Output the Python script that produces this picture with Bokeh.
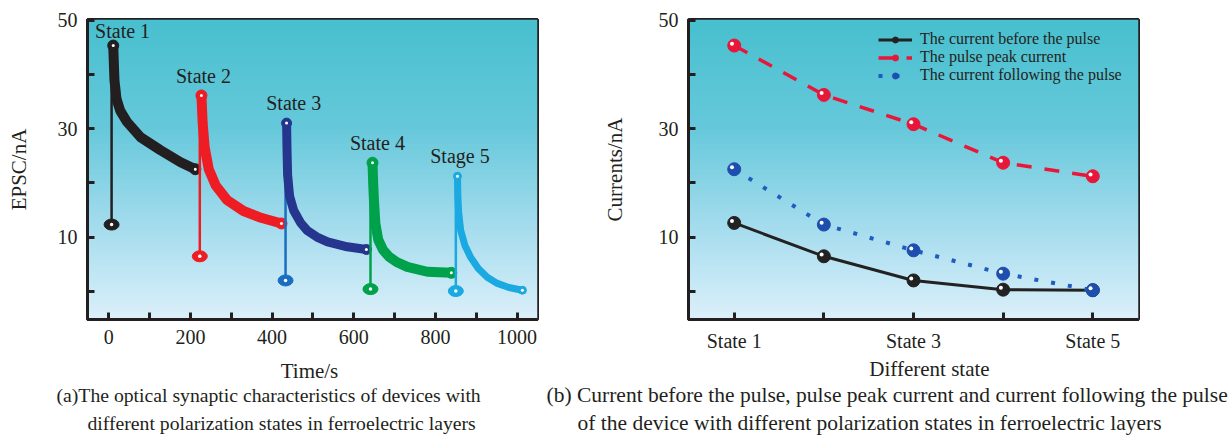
import numpy as np
from bokeh.plotting import figure
from bokeh.models import FixedTicker, Legend, LegendItem, Range1d
from bokeh.layouts import row, column
from bokeh.embed import file_html
from bokeh.resources import INLINE
from bokeh.core.properties import value
from bokeh.transform import dodge

FONT = "Liberation Serif"
INK = "#231F20"

# ---------------- data: panel (a) ----------------
state_names_a = ["State 1", "State 2", "State 3", "State 4", "Stage 5"]
pulse_times = [7, 223, 433, 641, 850]
pre_pulse = [12.3, 6.45, 2.0, 0.4, 0.05]

s1_time = [11, 14, 19, 28, 45, 78, 127, 176, 212]
s1_epsc = [45.3, 38.9, 35.5, 33.3, 31.2, 28.4, 26.0, 23.8, 22.5]
s2_time = [227, 230, 235, 245, 262, 290, 330, 375, 423]
s2_epsc = [36.1, 31.0, 26.5, 22.5, 19.5, 16.8, 14.8, 13.5, 12.5]
s3_time = [435.5, 436.5, 438, 443, 453, 470, 486, 510, 536, 584, 631]
s3_epsc = [31.0, 26.5, 21.5, 17.5, 14.9, 12.6, 11.2, 10.0, 9.1, 8.2, 7.7]
s4_time = [646, 647.5, 649.5, 653, 660, 672, 686, 705, 731, 780, 839]
s4_epsc = [23.7, 20.0, 16.8, 12.5, 9.5, 7.6, 6.4, 5.4, 4.5, 3.6, 3.4]
s5_time = [854, 855, 857, 862, 872, 886, 905, 927, 950, 980, 1013]
s5_epsc = [21.2, 17.5, 14.5, 11.2, 8.5, 6.3, 4.2, 2.6, 1.5, 0.7, 0.2]

label_time = [34, 232, 453, 658, 860]
label_epsc = [47.9, 39.6, 34.7, 27.3, 24.9]

time_ticks = [0, 100, 200, 300, 400, 500, 600, 700, 800, 900, 1000]
time_tick_labels = ["0", "", "200", "", "400", "", "600", "", "800", "", "1000"]
current_ticks = [0, 10, 20, 30, 40, 50]
current_tick_labels = ["", "10", "", "30", "", "50"]

# ---------------- data: panel (b) ----------------
states = [1, 2, 3, 4, 5]
state_tick_labels = ["State 1", "", "State 3", "", "State 5"]
before_pulse = [12.6, 6.45, 2.0, 0.3, 0.2]
peak_current = [45.3, 36.2, 30.8, 23.7, 21.2]
after_pulse = [22.5, 12.3, 7.55, 3.25, 0.2]
legend_names = ["The current before the pulse", "The pulse peak current",
                "The current following the pulse"]

# ---------------- texts below the plots ----------------
xlabel_texts = ["Time/s", "Different state"]
xlabel_x = [309, 929]
xlabel_y = [66, 68]
caption_a = ["(a)The optical synaptic characteristics of devices with",
             "different polarization states in ferroelectric layers"]
caption_a_x = [56, 87]
caption_b = ["(b) Current before the pulse, pulse peak current and current following the pulse",
             "of the device with different polarization states in ferroelectric layers"]
caption_b_x = [546, 577]
caption_y = [42, 14]

# ---------------- styling helpers ----------------
def add_gradient(p, xr, yr):
    n = 240
    f = np.linspace(0.0, 1.0, n)  # bottom -> top
    stops = [0.0, 0.27, 0.64, 1.0]
    r = np.interp(f, stops, [220, 172, 102, 72])
    g = np.interp(f, stops, [240, 223, 201, 192])
    b = np.interp(f, stops, [250, 240, 219, 207])
    img = np.zeros((n, 1), dtype=np.uint32)
    v = img.view(dtype=np.uint8).reshape((n, 1, 4))
    v[:, 0, 0] = r.astype(np.uint8)
    v[:, 0, 1] = g.astype(np.uint8)
    v[:, 0, 2] = b.astype(np.uint8)
    v[:, 0, 3] = 255
    p.image_rgba(image=[img], x=xr.start, y=yr.start,
                 dw=xr.end - xr.start, dh=yr.end - yr.start)


def style(p, xticks, xlabels, yticks, ylabels):
    p.xaxis.ticker = FixedTicker(ticks=xticks)
    p.xaxis.major_label_overrides = dict(zip(xticks, xlabels))
    p.yaxis.ticker = FixedTicker(ticks=yticks)
    p.yaxis.major_label_overrides = dict(zip(yticks, ylabels))
    for ax in (p.xaxis[0], p.yaxis[0]):
        ax.major_tick_in = 7
        ax.major_tick_out = 0
        ax.minor_tick_line_color = None
        ax.axis_line_width = 3
        ax.axis_line_color = INK
        ax.major_tick_line_width = 3
        ax.major_tick_line_color = INK
        ax.major_label_text_font = FONT
        ax.major_label_text_font_size = "20px"
        ax.major_label_text_color = INK
        ax.axis_label_text_font = FONT
        ax.axis_label_text_font_size = "21px"
        ax.axis_label_text_font_style = "normal"
        ax.axis_label_text_color = INK
    p.xaxis.major_label_standoff = 10
    p.yaxis.major_label_standoff = 10
    p.xgrid.visible = False
    p.ygrid.visible = False
    p.outline_line_color = INK
    p.outline_line_width = 3
    p.outline_line_alpha = 1.0
    p.border_fill_color = "white"

TOP_H = 354

# ---------------- panel (a) ----------------
yr_a = Range1d(-5.2, 50.1)
xr_a = Range1d(-52, 1050)
pa = figure(width=545, height=TOP_H, x_range=xr_a, y_range=yr_a,
            min_border_left=87, min_border_right=8, min_border_top=19,
            min_border_bottom=TOP_H - 319,
            toolbar_location=None, output_backend="svg", title=None)
style(pa, time_ticks, time_tick_labels, current_ticks, current_tick_labels)
pa.yaxis.axis_label = "EPSC/nA"
pa.yaxis.axis_label_standoff = 24
add_gradient(pa, xr_a, yr_a)

curve_times = [s1_time, s2_time, s3_time, s4_time, s5_time]
curve_epsc = [s1_epsc, s2_epsc, s3_epsc, s4_epsc, s5_epsc]
band_colors = ["#231F20", "#EE1D23", "#26368E", "#00A14B", "#1BA9E1"]
pulse_colors = ["#231F20", "#EE1D23", "#1A6EBF", "#00A14B", "#1BA9E1"]
band_widths = [10, 10, 9, 10, 7]

for tt, vv, t0, v0, bc, pc, bw in zip(curve_times, curve_epsc, pulse_times, pre_pulse,
                                      band_colors, pulse_colors, band_widths):
    pa.segment(x0=[t0], y0=[v0], x1=[t0], y1=[vv[0]], line_color=pc, line_width=2.5)
    pa.line(tt, vv, line_color=bc, line_width=bw, line_join="round", line_cap="round")
    pa.scatter([tt[0], tt[-1]], [vv[0], vv[-1]], size=bw + 1, fill_color=bc, line_color=bc)
    pa.scatter([tt[0], tt[-1]], [vv[0], vv[-1]], size=3, fill_color="white", line_color=None)
    pa.ellipse([t0], [v0], width=15, height=11, width_units="screen", height_units="screen",
               fill_color=pc, line_color=pc)
    pa.scatter([t0], [v0], size=3.5, fill_color="white", line_color=None)

pa.text(x=label_time, y=label_epsc, text=state_names_a, text_font=value(FONT),
        text_font_size="20px", text_align="center", text_baseline="middle", text_color=INK)

# ---------------- panel (b) ----------------
yr_b = Range1d(-5.2, 50.1)
xr_b = Range1d(0.49, 5.51)
pb = figure(width=683, height=TOP_H, x_range=xr_b, y_range=yr_b,
            min_border_left=143, min_border_right=90, min_border_top=19,
            min_border_bottom=TOP_H - 319,
            toolbar_location=None, output_backend="svg", title=None)
style(pb, states, state_tick_labels, current_ticks, current_tick_labels)
pb.yaxis.axis_label = "Currents/nA"
pb.yaxis.axis_label_standoff = 29
add_gradient(pb, xr_b, yr_b)

series = [before_pulse, peak_current, after_pulse]
ball_colors = ["#222222", "#E8173A", "#1E4FAE"]
line_colors = ["#222222", "#E8173A", "#1E5CBF"]
dashes = ["solid", "15 13", "4 13"]
widths = [3, 3.5, 4]
items = []
for vals, bc, lc, dsh, lw, name in zip(series, ball_colors, line_colors, dashes, widths, legend_names):
    ln = pb.line(states, vals, line_color=lc, line_width=lw, line_dash=dsh)
    ball = pb.scatter(states, vals, size=13, fill_color=bc, line_color=bc)
    pb.scatter(x=dodge("x", -0.025, range=xr_b), y=dodge("y", 0.35, range=yr_b),
               source=dict(x=states, y=vals), size=4, fill_color="white", line_color=None)
    items.append(LegendItem(label=name, renderers=[ln, ball]))

leg = Legend(items=items, location=(190, 235), margin=0, padding=4, spacing=-2,
             glyph_width=34, glyph_height=15, label_height=15, label_standoff=8,
             label_text_font=FONT, label_text_font_size="16px", label_text_color=INK,
             border_line_color=None, background_fill_alpha=0.0)
pb.add_layout(leg)

# ---------------- axis titles and captions ----------------
CAP_H = 436 - TOP_H
pc_fig = figure(width=1228, height=CAP_H, x_range=Range1d(0, 1228), y_range=Range1d(0, CAP_H),
                min_border=0, toolbar_location=None, output_backend="svg", title=None,
                x_axis_type=None, y_axis_type=None)
pc_fig.outline_line_color = None
pc_fig.xgrid.visible = False
pc_fig.ygrid.visible = False
pc_fig.text(x=xlabel_x, y=xlabel_y, text=xlabel_texts, text_font=value(FONT),
            text_font_size="21px", text_align="center", text_baseline="middle",
            text_color=INK)
pc_fig.text(x=caption_a_x, y=caption_y, text=caption_a, text_font=value(FONT),
            text_font_size="19.7px", text_align="left", text_baseline="middle",
            text_color=INK)
pc_fig.text(x=caption_b_x, y=caption_y, text=caption_b, text_font=value(FONT),
            text_font_size="21.5px", text_align="left", text_baseline="middle",
            text_color=INK)

layout = column(row(pa, pb, spacing=0), pc_fig, spacing=0)
open("out.html", "w").write(file_html(layout, INLINE))
